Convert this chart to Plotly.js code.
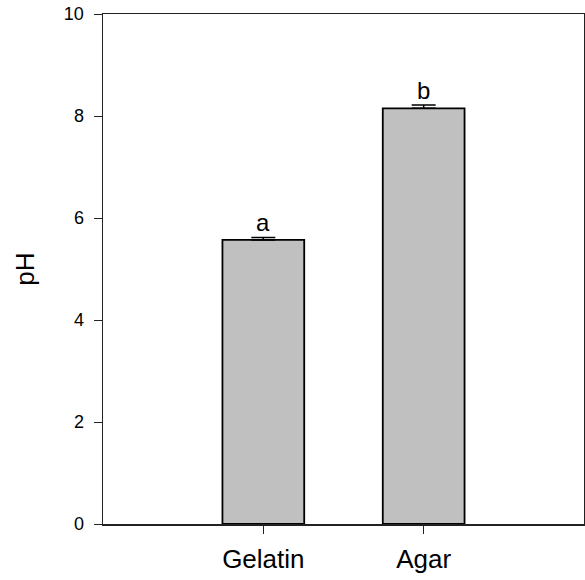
<!DOCTYPE html>
<html>
<head>
<meta charset="utf-8">
<script src="https://cdn.plot.ly/plotly-3.0.1.min.js"></script>
<style>html,body{margin:0;padding:0;background:#fff;}#chart{width:585px;height:580px;}</style>
</head>
<body>
<div id="chart"></div>
<script>
const categories = ["Gelatin", "Agar"];
const phValues = [5.57, 8.15];
const phErrors = [0.05, 0.065];
const sigLetters = ["a", "b"];
const yTicks = [0, 2, 4, 6, 8, 10];

const trace = {
  type: "bar",
  x: categories,
  y: phValues,
  width: 0.51,
  marker: {color: "#c0c0c0", line: {color: "#000", width: 1.8}},
  error_y: {type: "data", array: phErrors, visible: true, color: "#000", thickness: 1.5, width: 12, symmetric: false, arrayminus: [0, 0]},
  hoverinfo: "none"
};

const annotations = categories.map((c, i) => ({
  x: c, y: phValues[i] + phErrors[i], xref: "x", yref: "y",
  text: sigLetters[i], showarrow: false, yanchor: "bottom", yshift: -1,
  font: {family: "Liberation Sans, Arial, sans-serif", size: 24, color: "#000"}
}));

const layout = {
  width: 585, height: 580,
  margin: {l: 103, r: 1, t: 14, b: 56},
  paper_bgcolor: "#fff", plot_bgcolor: "#fff",
  showlegend: false,
  font: {family: "Liberation Sans, Arial, sans-serif", color: "#000"},
  xaxis: {
    type: "category", range: [-1, 2],
    showline: true, linecolor: "#222", linewidth: 1.5, mirror: true,
    ticks: "outside", ticklen: 8, tickwidth: 1, tickcolor: "#222",
    showgrid: false, zeroline: false, ticklabelstandoff: 3,
    tickfont: {size: 26, color: "#000"}
  },
  yaxis: {
    range: [0, 10], tickvals: yTicks,
    showline: true, linecolor: "#222", linewidth: 1.5, mirror: true,
    ticks: "outside", ticklen: 8, tickwidth: 1, tickcolor: "#222",
    showgrid: false, zeroline: false, ticklabelstandoff: 6,
    tickfont: {size: 18, color: "#000"},
    title: {text: "pH", font: {size: 26, color: "#000"}, standoff: 22}
  },
  annotations: annotations
};

Plotly.newPlot("chart", [trace], layout, {displayModeBar: false, staticPlot: true});
</script>
</body>
</html>
